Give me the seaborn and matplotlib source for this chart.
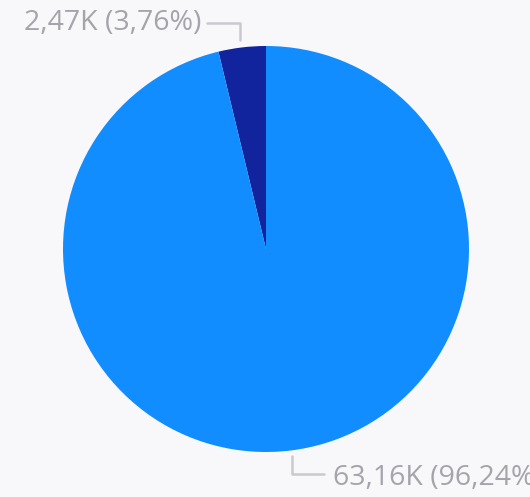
import numpy as np
import matplotlib
matplotlib.use("Agg")
import matplotlib.pyplot as plt
import seaborn as sns

labels = ["2,47K (3,76%)", "63,16K (96,24%)"]
values = [2.47, 63.16]
colors = ["#12239E", "#118DFF"]

sns.set_style("white")
plt.rcParams['font.family'] = ['Open Sans', 'DejaVu Sans']

W, H = 530, 497
fig = plt.figure(figsize=(W / 100, H / 100), dpi=100)
fig.patch.set_facecolor("#f8f8fb")
ax = fig.add_axes([0, 0, 1, 1])
ax.set_facecolor("#f8f8fb")

cx, cy, r = 266, H - 249, 203
ax.pie(values, colors=colors, startangle=90, counterclock=True,
       center=(cx, cy), radius=r, frame=True,
       wedgeprops=dict(linewidth=0))
ax.set_xlim(0, W)
ax.set_ylim(0, H)
ax.set_aspect("equal")
ax.axis("off")

gray = "#a4a4aa"
line_c = "#cacace"
# top label (small slice)
ax.plot([207, 240, 240], [H - 23, H - 23, H - 40], color=line_c, lw=1.8)
ax.text(201, H - 23, labels[0], ha="right", va="center", fontsize=20.5, color=gray)
# bottom label (big slice)
ax.plot([292, 292, 324], [H - 456, H - 474, H - 474], color=line_c, lw=1.8)
ax.text(333, H - 478, labels[1], ha="left", va="center", fontsize=20.5, color=gray)

fig.savefig("out.png", dpi=100, facecolor=fig.get_facecolor())
